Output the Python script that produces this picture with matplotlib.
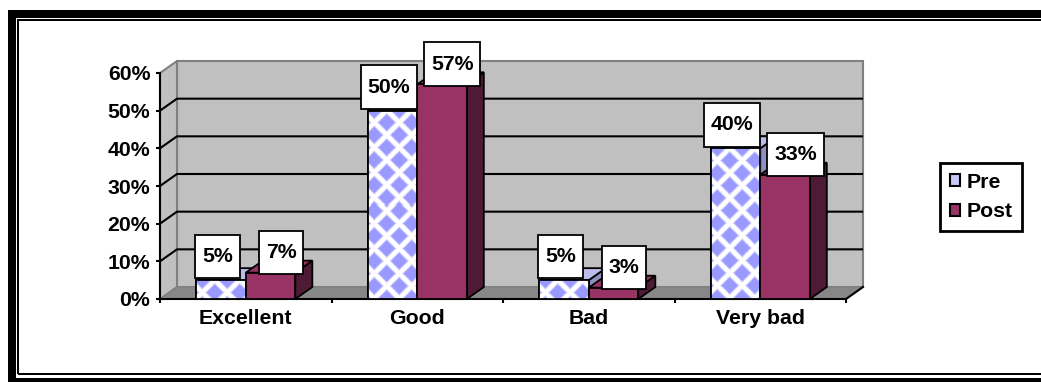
import numpy as np
import matplotlib
matplotlib.use("Agg")
from matplotlib import pyplot as plt
from matplotlib.patches import Polygon, Rectangle, Patch
from matplotlib.path import Path
from matplotlib.ticker import PercentFormatter

categories = ["Excellent", "Good", "Bad", "Very bad"]
series_names = ["Pre", "Post"]
pre_values = [0.05, 0.50, 0.05, 0.40]
post_values = [0.07, 0.57, 0.03, 0.33]
y_ticks = [0.0, 0.1, 0.2, 0.3, 0.4, 0.5, 0.6]

plt.rcParams['font.family'] = ['Liberation Sans', 'DejaVu Sans']
plt.rcParams['font.weight'] = 'bold'

W, H, DPI = 1041, 382, 100
FS = 15.3
fig = plt.figure(figsize=(W / DPI, H / DPI), dpi=DPI)
fig.patch.set_facecolor('white')

# double frame around the whole picture (right side is cut off in the original)
fig.add_artist(Rectangle((12 / W, 0.5 / H), 1.1, (368.5 - 0.5) / H, transform=fig.transFigure,
                         fill=False, ec='black', lw=8 * 0.72))
fig.add_artist(Rectangle((18 / W, (H - 374) / H), 1.1, (374 - 19.5) / H, transform=fig.transFigure,
                         fill=False, ec='black', lw=2 * 0.72))

ax = fig.add_axes([160 / W, 1 - 299 / H, 686 / W, 226 / H])
ax.set_xlim(-0.5, len(categories) - 0.5)
ax.set_ylim(0, y_ticks[-1])
ax.patch.set_visible(False)
xl, xr = ax.get_xlim()
ytop = ax.get_ylim()[1]

# depth of the fake 3d look, pixels -> data units
inv = ax.transData.inverted()
(ax0, ay0), (ax1, ay1) = inv.transform([(0, 0), (17, 12)])
ddx, ddy = ax1 - ax0, ay1 - ay0

# walls and floor
wall = dict(facecolor='#C0C0C0', edgecolor='#808080', lw=1.5, clip_on=False, zorder=0.5)
ax.add_patch(Polygon([(xl + ddx, ddy), (xr + ddx, ddy), (xr + ddx, ytop + ddy), (xl + ddx, ytop + ddy)], **wall))
ax.add_patch(Polygon([(xl, 0), (xl + ddx, ddy), (xl + ddx, ytop + ddy), (xl, ytop)], **wall))
ax.add_patch(Polygon([(xl, 0), (xr, 0), (xr + ddx, ddy), (xl + ddx, ddy)],
                     facecolor='#878787', edgecolor='#808080', lw=1, clip_on=False, zorder=0.7))
for t in y_ticks[1:-1]:
    ax.plot([xl, xl + ddx, xr + ddx], [t, t + ddy, t + ddy], color='black', lw=1.5,
            clip_on=False, zorder=0.6, solid_capstyle='butt')
ax.plot([xr, xr + ddx], [0, ddy], color='black', lw=1.5, clip_on=False, zorder=2.6)


def diamond_texture(w_px, h_px, period=25.0, radius=8.8, soft=3.0):
    yy, xx = np.mgrid[0:h_px, 0:w_px] + 0.5

    def l1(ox, oy):
        mx = (xx - ox) % period
        my = (yy - oy) % period
        return np.minimum(mx, period - mx) + np.minimum(my, period - my)

    d = np.minimum(l1(period / 4, 0), l1(period * 3 / 4, period / 2))
    a = np.clip((radius - d) / soft + 0.5, 0, 1)[..., None]
    blue = np.array([0x99, 0x99, 0xFF]) / 255
    return (1 - a) * np.ones(3) + a * blue


def draw_bar(xc, val, w, front, top, side, z, pattern=False):
    xa, xb = xc - w / 2, xc + w / 2
    edge = dict(edgecolor='black', lw=1.3, zorder=z, clip_on=False)
    ax.add_patch(Polygon([(xb, 0), (xb + ddx, ddy), (xb + ddx, val + ddy), (xb, val)], facecolor=side, **edge))
    ax.add_patch(Polygon([(xa, val), (xb, val), (xb + ddx, val + ddy), (xa + ddx, val + ddy)], facecolor=top, **edge))
    rect = Rectangle((xa, 0), w, val, facecolor=front, **edge)
    ax.add_patch(rect)
    if pattern:
        p0, p1 = ax.transData.transform([(xa, 0), (xb, val)])
        tex = diamond_texture(int(round(p1[0] - p0[0])), max(int(round(p1[1] - p0[1])), 1))
        im = ax.imshow(tex, extent=(xa, xb, 0, val), origin='upper', aspect='auto',
                       interpolation='nearest', zorder=z + 0.001)
        im.set_clip_path(rect)
        ax.add_patch(Rectangle((xa, 0), w, val, fill=False, edgecolor='black', lw=1.3,
                               zorder=z + 0.002, clip_on=False))


def pad_box(x0, y0, width, height, mutation_size):
    px, py = 0.32 * mutation_size, 0.58 * mutation_size
    verts = [(x0 - px, y0 - py), (x0 + width + px, y0 - py), (x0 + width + px, y0 + height + py),
             (x0 - px, y0 + height + py), (x0 - px, y0 - py)]
    return Path(verts, [Path.MOVETO, Path.LINETO, Path.LINETO, Path.LINETO, Path.CLOSEPOLY])


bar_w = 0.289
for i, (p, q) in enumerate(zip(pre_values, post_values)):
    z = 3 + i * 0.1
    draw_bar(i - bar_w / 2, p, bar_w, 'white', '#BDBDEB', '#9090C0', z, pattern=True)
    draw_bar(i + bar_w / 2, q, bar_w, '#993366', '#993366', '#4F1A35', z + 0.05)

label_box = dict(boxstyle=pad_box, fc='white', ec='black', lw=1.3)
for i, (p, q) in enumerate(zip(pre_values, post_values)):
    ax.annotate(f"{p:.0%}", xy=(i - bar_w / 2, p), xytext=(-2.5, 17), textcoords='offset points',
                ha='center', va='center', fontsize=FS, fontweight='bold', bbox=label_box,
                zorder=10, annotation_clip=False)
    ax.annotate(f"{q:.0%}", xy=(i + bar_w / 2, q), xytext=(7.5, 14.5), textcoords='offset points',
                ha='center', va='center', fontsize=FS, fontweight='bold', bbox=label_box,
                zorder=10, annotation_clip=False)

ax.set_xlim(xl, xr)
ax.set_ylim(0, ytop)

# axes
for s in ['top', 'right']:
    ax.spines[s].set_visible(False)
for s in ['left', 'bottom']:
    ax.spines[s].set_linewidth(1.5)
    ax.spines[s].set_color('black')
    ax.spines[s].set_zorder(2.7)

ax.set_yticks(y_ticks)
ax.yaxis.set_major_formatter(PercentFormatter(1.0, decimals=0))
ax.tick_params(axis='y', direction='out', length=3, width=1.5, pad=4, labelsize=FS)
ax.set_xticks(np.arange(xl, xr + 0.01, 1.0))
ax.set_xticklabels([])
ax.set_xticks(range(len(categories)), categories, minor=True)
ax.tick_params(axis='x', which='major', direction='out', length=3, width=1.5)
ax.tick_params(axis='x', which='minor', length=0, pad=7, labelsize=FS)
for lab in ax.get_xticklabels(minor=True) + ax.get_yticklabels():
    lab.set_fontweight('bold')

handles = [Patch(facecolor='#C9C9F5', edgecolor='black', lw=1.5),
           Patch(facecolor='#993366', edgecolor='black', lw=1.5)]
leg = fig.legend(handles, series_names, loc='upper left', bbox_to_anchor=(940 / W, 1 - 163 / H),
                 frameon=True, fancybox=False, edgecolor='black', framealpha=1,
                 prop=dict(size=FS, weight='bold'), handlelength=0.5, handleheight=0.5,
                 handletextpad=0.3, labelspacing=0.5, borderpad=0.45, borderaxespad=0)
leg.get_frame().set_linewidth(2)

fig.savefig("out.png", dpi=DPI)
